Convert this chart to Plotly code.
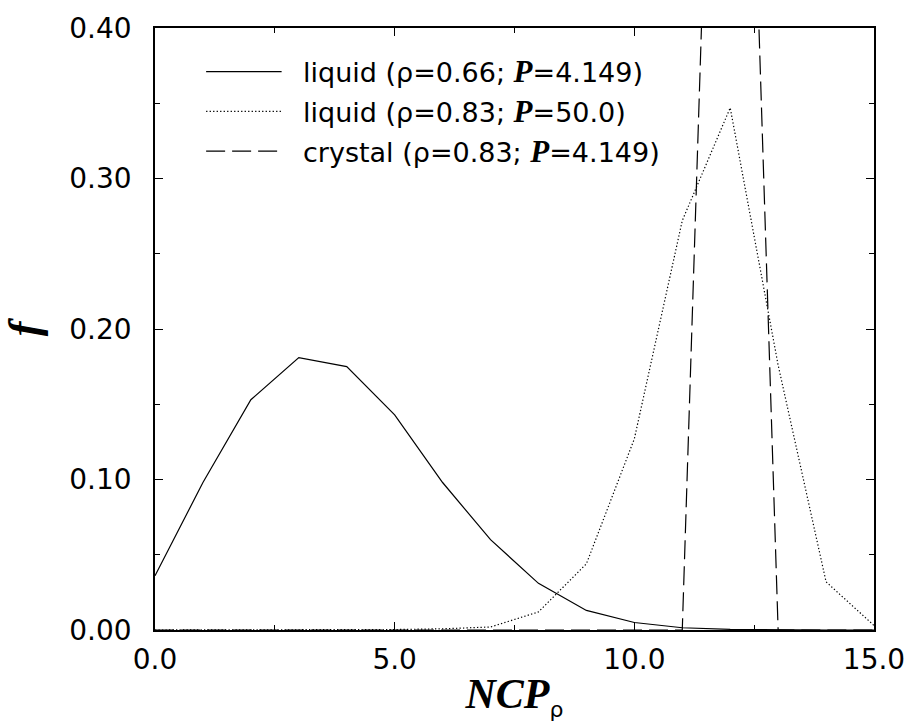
import plotly.graph_objects as go

# NCP_rho histogram bins
ncp = list(range(16))

# f(NCP_rho) for each state point
liquid_066 = [0.036, 0.098, 0.153, 0.181, 0.175, 0.143, 0.098, 0.060,
              0.031, 0.013, 0.005, 0.0015, 0.0004, 0.0001, 0.0, 0.0]
liquid_083 = [0.0, 0.0, 0.0, 0.0, 0.0001, 0.0003, 0.0008, 0.002,
              0.012, 0.044, 0.127, 0.272, 0.347, 0.176, 0.032, 0.003]
crystal_083 = [0.0, 0.0, 0.0, 0.0, 0.0, 0.0, 0.0, 0.0,
               0.0, 0.0, 0.0, 0.0, 1.0, 0.0, 0.0, 0.0]

P_SPAN = '<span style="font-family:Liberation Serif;font-size:31px"><b><i>P</i></b></span>'
labels = [
    f"liquid (ρ=0.66; {P_SPAN}=4.149)",
    f"liquid (ρ=0.83; {P_SPAN}=50.0)",
    f"crystal (ρ=0.83; {P_SPAN}=4.149)",
]
dashes = ["solid", "1.3px,2.2px", "19px,7px"]
series = [liquid_066, liquid_083, crystal_083]

SANS = "DejaVu Sans"
SERIF = "Liberation Serif"
LW = 1.2

fig = go.Figure()
for ys, dash, lab in zip(series, dashes, labels):
    fig.add_trace(go.Scatter(
        x=ncp, y=ys, mode="lines", name=lab, showlegend=False,
        line=dict(color="black", width=LW, dash=dash),
    ))

# hand-drawn key in the upper left of the plotting area
key_rows_y = [0.9274, 0.8614, 0.7954]
for yk, dash, lab in zip(key_rows_y, dashes, labels):
    fig.add_shape(type="line", xref="paper", yref="paper",
                  x0=0.0711, x1=0.1761, y0=yk, y1=yk,
                  line=dict(color="black", width=LW, dash=dash))
    fig.add_annotation(xref="paper", yref="paper", x=0.2036, y=yk,
                       xanchor="left", yanchor="middle", showarrow=False,
                       text=lab, font=dict(family=SANS, size=27, color="black"))

axis_common = dict(
    showline=True, linecolor="black", linewidth=1.5, mirror="allticks",
    ticks="inside", ticklen=8, tickwidth=1.3, tickcolor="black",
    showgrid=False, zeroline=False,
    tickfont=dict(family=SANS, size=28, color="black"),
)

fig.update_xaxes(
    range=[0, 15], dtick=5, tick0=0, tickformat=".1f",
    minor=dict(dtick=2.5, ticks="inside", ticklen=5, tickwidth=1.3,
               tickcolor="black", showgrid=False),
    ticklabelstandoff=4,
    title=dict(text="<b><i>NCP</i></b><sub><span style=\"font-family:DejaVu Sans;font-size:22px\">ρ</span></sub>",
               font=dict(family=SERIF, size=42, color="black"), standoff=3),
    **axis_common,
)
fig.update_yaxes(
    range=[0, 0.4], dtick=0.1, tick0=0, tickformat=".2f",
    minor=dict(dtick=0.05, ticks="inside", ticklen=5, tickwidth=1.3,
               tickcolor="black", showgrid=False),
    ticklabelstandoff=16,
    title=dict(text="<b><i>f</i></b>",
               font=dict(family=SERIF, size=44, color="black"), standoff=16),
    **axis_common,
)

fig.update_layout(
    width=917, height=724,
    margin=dict(l=155, r=35, t=24, b=94),
    paper_bgcolor="white", plot_bgcolor="white",
)

fig.write_html("out.html")
